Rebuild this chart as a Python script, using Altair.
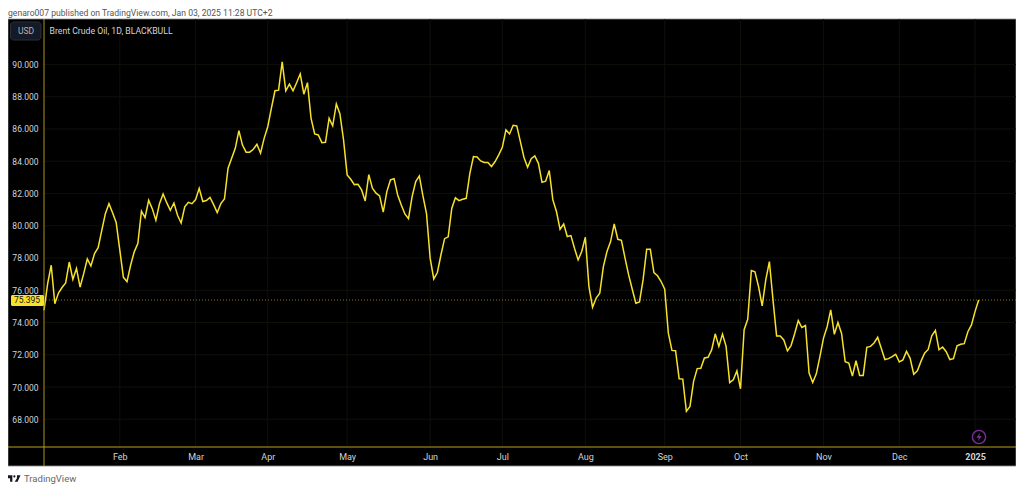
import altair as alt
import pandas as pd

prices = [
 74.76,76.4,77.55,75.17,75.83,76.17,76.45,77.75,76.68,77.35,76.2,77.03,77.94,77.5,78.27,78.64,79.7,80.75,81.37,80.8,
 80.2,78.5,76.8,76.54,77.55,78.38,78.9,80.9,80.5,81.58,81.06,80.34,81.37,81.97,81.43,80.96,81.41,80.65,80.17,81.17,
 81.45,81.37,81.62,82.32,81.5,81.56,81.76,81.31,80.81,81.37,81.66,83.57,84.19,84.8,85.9,85.0,84.56,84.56,84.74,85.05,
 84.5,85.42,86.14,87.28,88.37,88.41,90.16,88.37,88.78,88.37,88.87,89.42,88.16,88.87,86.66,85.69,85.63,85.15,85.17,86.66,
 86.2,87.55,86.93,85.32,83.15,82.88,82.55,82.57,82.22,81.54,83.17,82.33,82.02,81.85,80.84,82.12,82.84,82.92,81.91,81.29,
 80.73,80.44,81.81,82.74,83.09,81.85,80.73,77.99,76.7,77.1,78.2,79.2,79.31,81.09,81.73,81.56,81.64,81.7,83.25,84.29,
 84.27,84.02,83.92,83.92,83.67,83.98,84.39,84.86,85.94,85.69,86.23,86.19,85.22,84.23,83.63,84.16,84.33,83.87,82.69,82.76,
 83.42,81.6,80.88,79.78,80.11,79.33,79.39,78.6,77.88,78.4,79.29,76.23,74.95,75.51,75.82,77.47,78.4,79.02,80.11,79.16,
 79.1,77.99,76.95,76.06,75.2,75.28,76.64,78.54,78.54,77.1,76.9,76.54,76.06,73.34,72.27,72.25,70.51,70.49,68.49,68.8,
 70.35,71.14,71.16,71.8,71.84,72.3,73.3,72.52,73.28,72.52,70.27,70.45,71.0,69.89,73.55,74.2,77.22,77.14,76.23,75.03,
 76.64,77.78,75.4,73.17,73.17,72.92,72.24,72.57,73.3,74.12,73.69,73.81,70.86,70.28,70.82,71.89,73.03,73.74,74.78,73.27,
 74.0,73.32,71.57,71.49,70.68,71.63,70.72,70.72,72.46,72.52,72.73,73.08,72.4,71.7,71.76,71.88,72.03,71.55,71.68,72.21,
 71.78,70.79,71.01,71.59,72.1,72.33,73.18,73.51,72.31,72.48,72.19,71.7,71.76,72.55,72.65,72.69,73.43,73.85,74.69,75.395,
]
month_labels = ["Feb","Mar","Apr","May","Jun","Jul","Aug","Sep","Oct","Nov","Dec","2025"]
month_bars = [21,42,62,84,107,127,150,172,193,216,237,258]
price_ticks = list(range(68, 92, 2))
last_price = 75.395

W, H = 972, 428
n = len(prices)
xmax = (n - 1) * W / 934.7
xs = alt.Scale(domain=[0, xmax], nice=False, zero=False)
ys = alt.Scale(domain=[66.28, 92.82], nice=False, zero=False)

one = alt.Data(values=[{"a": 1}])
df = pd.DataFrame({"bar": list(range(n)), "price": prices})
GREY = "#d1d4dc"
FONT = "Roboto"

label_expr = "{" + ",".join(f"{b}:'{t}'" for b, t in zip(month_bars, month_labels)) + "}[datum.value]"
x_axis = alt.Axis(
    values=month_bars, labelExpr=label_expr, grid=False, domain=False, ticks=False, title=None,
    labelColor=GREY, labelFont=FONT, labelFontSize=9, labelPadding=5, zindex=1,
    labelFlush=False, labelOverlap=False,
    labelFontWeight={"condition": {"test": "datum.value == 258", "value": "bold"}, "value": "normal"})
y_axis = alt.Axis(
    values=price_ticks, format=".3f", grid=False, domain=False, ticks=False, title=None,
    labelColor=GREY, labelFont=FONT, labelFontSize=8.5, labelPadding=6, zindex=1,
    labelOverlap=False)

def box(x0, x1, y0, y1, **kw):
    return alt.Chart(one).mark_rect(**kw).encode(
        x=alt.value(x0), x2=alt.value(x1), y=alt.value(y0), y2=alt.value(y1))

def label(text, x, y, **kw):
    return alt.Chart(one).mark_text(text=text, font=FONT, **kw).encode(
        x=alt.value(x), y=alt.value(y))

bg = box(-36, W, 0, 447, fill="#000000", stroke="#8a8a8a", strokeWidth=0.8)

grid_h = alt.Chart(pd.DataFrame({"p": price_ticks})).mark_rule(color="#0f0f0a", strokeWidth=1).encode(
    y=alt.Y("p:Q", scale=ys, axis=y_axis))
grid_v = alt.Chart(pd.DataFrame({"b": month_bars})).mark_rule(color="#0f0f0a", strokeWidth=1).encode(
    x=alt.X("b:Q", scale=xs, axis=x_axis))

axis_v = box(-0.5, 0.5, 0, 447, fill="#a8941a")
axis_h = box(-36, W, 427.5, 428.5, fill="#b8a21a")

last_rule = alt.Chart(pd.DataFrame({"p": [last_price]})).mark_rule(
    color="#8a7d14", strokeWidth=1, strokeDash=[1, 2]).encode(y=alt.Y("p:Q", scale=ys, axis=y_axis))

line = alt.Chart(df).mark_line(color="#f7e22b", strokeWidth=1.5, interpolate="linear").encode(
    x=alt.X("bar:Q", scale=xs, axis=x_axis),
    y=alt.Y("price:Q", scale=ys, axis=y_axis),
)

price_box = box(-33, 0, 276, 287, fill="#f7e22b", cornerRadius=1.5)
price_txt = alt.Chart(pd.DataFrame({"p": [last_price]})).mark_text(
    font=FONT, fontSize=8.5, color="#131313", align="center", baseline="middle").encode(
    x=alt.value(-17), y=alt.Y("p:Q", scale=ys, axis=y_axis), text=alt.Text("p:Q", format=".3f"))

usd_box = box(-33.5, -3, 3, 21, fill="#141a28", stroke="#2a2e39", strokeWidth=1, cornerRadius=3)
usd_txt = label("USD", -18, 12, fontSize=8.5, color="#b2b5be", align="center", baseline="middle")
legend = label("Brent Crude Oil, 1D, BLACKBULL", 5.5, 11.5, fontSize=8.7, color=GREY, align="left", baseline="middle")
published = label("genaro007 published on TradingView.com, Jan 03, 2025 11:28 UTC+2", -36, -6.5,
                  fontSize=8.6, color="#555555", align="left", baseline="middle")
brand = label("TradingView", -20, 460, fontSize=9.5, color="#666666", align="left", baseline="middle")

logo_path = "M-1 -0.5 L-0.25 -0.5 L-0.25 0.5 L-0.6 0.5 L-0.6 -0.05 L-1 -0.05 Z M0.45 -0.5 L1 -0.5 L0.55 0.5 L0.1 0.5 L0.45 -0.05 Z M-0.1 -0.32 A0.16 0.16 0 1 1 0.22 -0.32 A0.16 0.16 0 1 1 -0.1 -0.32 Z"
logo = alt.Chart(one).mark_point(shape=logo_path, filled=True, color="#131722", size=170, opacity=1).encode(
    x=alt.value(-30), y=alt.value(459.5))

ring = alt.Chart(one).mark_point(shape="circle", filled=False, color="#7b2d9e", size=175, strokeWidth=1.4, opacity=1).encode(
    x=alt.value(935), y=alt.value(418))
bolt_path = "M0.25 -1 L-0.6 0.15 L-0.05 0.15 L-0.25 1 L0.6 -0.2 L0.05 -0.2 Z"
bolt = alt.Chart(one).mark_point(shape=bolt_path, filled=True, color="#7b2d9e", size=80, opacity=1).encode(
    x=alt.value(935), y=alt.value(418))

chart = alt.layer(
    bg, grid_h, grid_v, last_rule, line, axis_v, axis_h, price_box, price_txt,
    usd_box, usd_txt, legend, published, brand, logo, ring, bolt,
).properties(
    width=W, height=H, background="#ffffff",
    padding={"left": 36, "top": 11, "right": 0, "bottom": 42},
    autosize=alt.AutoSizeParams(type="none"),
).configure_view(stroke=None)

chart.save("out.html", embed_options={"renderer": "svg", "actions": False})
